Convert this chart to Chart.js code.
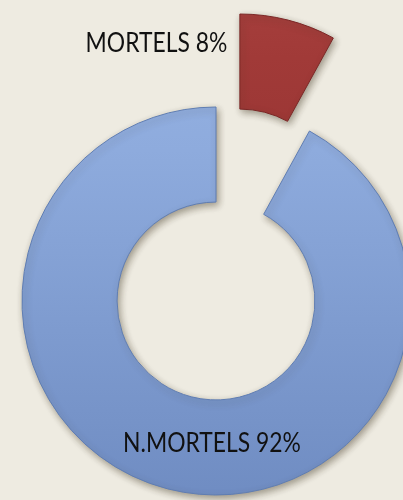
<!DOCTYPE html>
<html>
<head>
<meta charset="utf-8">
<script src="https://cdn.jsdelivr.net/npm/chart.js@4"></script>
<style>
  html, body { margin: 0; padding: 0; background: #eeebe1; }
  canvas { display: block; }
</style>
</head>
<body>
<canvas id="mortChart" width="403" height="500"></canvas>
<script>
// Données du graphique
const categories = ['MORTELS', 'N.MORTELS'];
const percents = [8, 92];
const labelTexts = ['MORTELS 8%', 'N.MORTELS 92%'];

const labelFont = '26px Lato, "Open Sans", sans-serif';
const labelSqueeze = 0.88;   // le texte d'origine est plus étroit (Calibri)
const explode = 96;          // décalage du petit secteur

// dégradé vertical pour donner un peu de relief
function arcFill(context) {
    const chart = context.chart;
    const ctx = chart.ctx;
    const h = chart.height || 500;
    const g = ctx.createLinearGradient(0, 0, 0, h);
    if (context.dataIndex === 0) {
        g.addColorStop(0, '#ad4644');
        g.addColorStop(0.3, '#a13a38');
        g.addColorStop(1, '#8a2c2b');
    } else {
        g.addColorStop(0, '#97b4e4');
        g.addColorStop(0.3, '#8eabdd');
        g.addColorStop(1, '#6f8cc2');
    }
    return g;
}

// ombre portée + secteur détaché
const shadowPlugin = {
    id: 'shadow',
    afterUpdate(chart) {
        const arc = chart.getDatasetMeta(0).data[0];
        if (arc && !arc._exploded) {
            const origDraw = arc.draw.bind(arc);
            arc.draw = function (ctx) {
                const mid = (this.startAngle + this.endAngle) / 2;
                ctx.save();
                ctx.translate(Math.cos(mid) * explode, Math.sin(mid) * explode);
                origDraw(ctx);
                ctx.restore();
            };
            arc._exploded = true;
        }
    },
    beforeDatasetsDraw(chart) {
        const ctx = chart.ctx;
        ctx.save();
        ctx.shadowColor = 'rgba(60, 50, 30, 0.45)';
        ctx.shadowBlur = 7;
        ctx.shadowOffsetX = 2;
        ctx.shadowOffsetY = 3;
    },
    afterDatasetsDraw(chart) {
        chart.ctx.restore();
    }
};

function drawLabel(ctx, text, x, y, align) {
    ctx.save();
    ctx.translate(x, y);
    ctx.scale(labelSqueeze, 1);
    ctx.textAlign = align;
    ctx.fillText(text, 0, 0);
    ctx.restore();
}

// étiquettes placées à partir de la géométrie des arcs
const labelPlugin = {
    id: 'sliceLabels',
    afterDatasetsDraw(chart) {
        const ctx = chart.ctx;
        const meta = chart.getDatasetMeta(0);
        ctx.save();
        ctx.font = labelFont;
        ctx.fillStyle = '#111';
        ctx.textBaseline = 'middle';

        // petit secteur : texte à gauche du secteur détaché
        const a0 = meta.data[0];
        const p0 = a0.tooltipPosition();
        const mid0 = (a0.startAngle + a0.endAngle) / 2;
        const x0 = p0.x + Math.cos(mid0) * explode;
        const y0 = p0.y + Math.sin(mid0) * explode;
        drawLabel(ctx, labelTexts[0], x0 - 49, y0 - 23, 'right');

        // grand secteur : texte en bas de l'anneau
        const a1 = meta.data[1];
        const ry = (a1.innerRadius + a1.outerRadius) / 2;
        drawLabel(ctx, labelTexts[1], a1.x - 4, a1.y + ry - 4, 'center');
        ctx.restore();
    }
};

const ctx = document.getElementById('mortChart').getContext('2d');
new Chart(ctx, {
    type: 'doughnut',
    data: {
        labels: categories,
        datasets: [{
            data: percents,
            backgroundColor: arcFill,
            borderColor: ['#7a2726', '#5f7db2'],
            borderWidth: 1,
            hoverOffset: 0,
            clip: false
        }]
    },
    options: {
        responsive: false,
        animation: false,
        events: [],
        radius: 194,
        cutout: '51%',
        layout: {
            padding: { left: 29, right: 0, top: 102, bottom: 0 }
        },
        plugins: {
            legend: { display: false },
            tooltip: { enabled: false },
            title: { display: false }
        }
    },
    plugins: [shadowPlugin, labelPlugin]
});
</script>
</body>
</html>
